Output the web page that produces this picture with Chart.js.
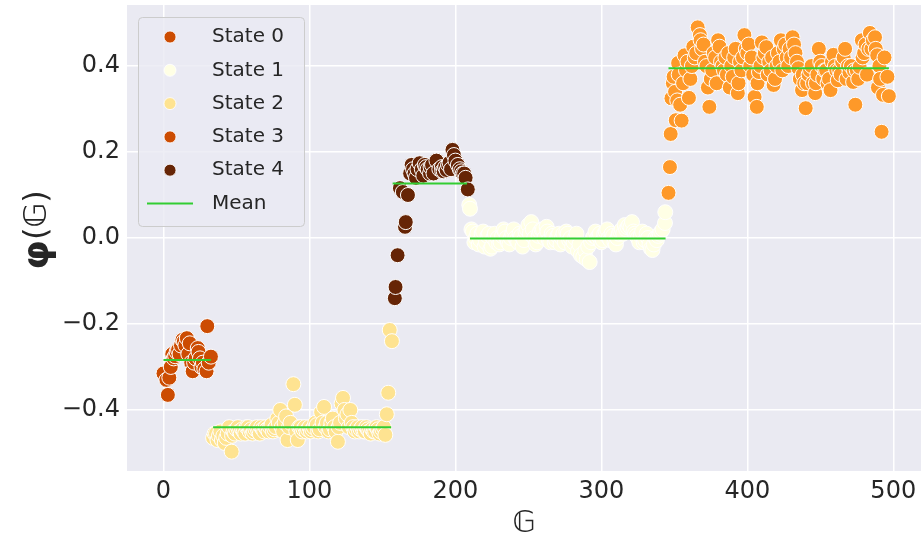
<!DOCTYPE html>
<html>
<head>
<meta charset="utf-8">
<script src="https://cdn.jsdelivr.net/npm/chart.js@4/dist/chart.umd.min.js"></script>
<style>
  html, body { margin: 0; padding: 0; background: #ffffff; }
  #wrap { width: 924px; height: 542px; }
</style>
</head>
<body>
<div id="wrap"><canvas id="myChart" width="924" height="542"></canvas></div>
<script>
// point data: [G, phi]
let state0 = [[0,-0.315],[2,-0.33],[3,-0.365],[4,-0.325],[6,-0.27],[8,-0.275],[10,-0.26],[12,-0.25],[13,-0.237],[14,-0.24],[16,-0.233],[18,-0.245],[20,-0.31],[21,-0.29],[22,-0.28],[23.5,-0.256],[24,-0.265],[26,-0.3],[28,-0.305],[29.5,-0.31],[30,-0.205],[32.5,-0.276],
	[5,-0.3],[7,-0.28],[9,-0.265],[11,-0.27],[15,-0.25],[17,-0.27],[19,-0.29],[25,-0.28],[27,-0.29],[31,-0.29]];
let state2 = [[34,-0.465],[36,-0.455],[38,-0.46],[40,-0.47],[42,-0.477],[44,-0.455],[46.7,-0.497],[48,-0.45],[50,-0.445],[52,-0.45],[54,-0.445],[56,-0.455],[58,-0.44],[60,-0.445],[62,-0.45],[64,-0.44],[66,-0.455],[68,-0.445],[70,-0.44],[72,-0.45],[74,-0.435],[76,-0.445],[78,-0.42],[80,-0.4],[82,-0.45],[84,-0.415],[85,-0.47],[89,-0.34],[90,-0.388],[92,-0.47],[94,-0.44],[96,-0.445],[98,-0.45],[100,-0.44],[102,-0.445],[104,-0.43],[106,-0.45],[108,-0.405],[110,-0.393],[112,-0.43],[114,-0.445],[116,-0.42],[118,-0.45],[119.5,-0.474],[122,-0.385],[123,-0.372],[126,-0.41],[128,-0.4],[130,-0.44],[132,-0.445],[134,-0.45],[136,-0.44],[138,-0.45],[140,-0.445],[142,-0.455],[144,-0.45],[146,-0.44],[148,-0.455],[150,-0.445],[152,-0.458],[153,-0.41],[154,-0.36],[155,-0.214],[156.5,-0.24],
	[35,-0.455],[37,-0.47],[39,-0.45],[41,-0.46],[43,-0.465],[45,-0.44],[47,-0.46],[49,-0.455],[51,-0.44],[53,-0.455],[55,-0.45],[57,-0.44],[59,-0.45],[61,-0.455],[63,-0.445],[65,-0.45],[67,-0.44],[69,-0.45],[71,-0.445],[73,-0.44],[75,-0.45],[77,-0.44],[79,-0.43],[81,-0.44],[83,-0.43],[86,-0.44],[87,-0.43],[91,-0.45],[93,-0.44],[95,-0.45],[97,-0.44],[99,-0.445],[101,-0.45],[103,-0.44],[105,-0.435],[107,-0.445],[109,-0.43],[111,-0.44],[113,-0.45],[115,-0.43],[117,-0.44],[120,-0.44],[121,-0.43],[124,-0.4],[125,-0.42],[127,-0.44],[129,-0.43],[131,-0.45],[133,-0.44],[135,-0.445],[137,-0.45],[139,-0.44],[141,-0.45],[143,-0.445],[145,-0.45],[147,-0.445],[149,-0.45],[151,-0.44]];
let state4 = [[158.5,-0.14],[159,-0.114],[160.4,-0.04],[162,0.116],[164,0.107],[165.5,0.026],[166,0.037],[167.5,0.1],[170,0.17],[172,0.15],[174,0.16],[175.5,0.174],[178,0.145],[180,0.165],[182.6,0.15],[184,0.17],[187,0.18],[189,0.16],[190.7,0.165],[192,0.155],[194,0.158],[196,0.175],[198,0.205],[199,0.193],[201.7,0.17],[204,0.155],[205,0.15],[207,0.14],[208.5,0.113],
	[169,0.15],[171,0.16],[173,0.14],[177,0.16],[179,0.17],[181,0.16],[183,0.165],[185,0.15],[191,0.155],[193,0.165],[195,0.17],[197,0.16],[200,0.18],[203,0.16],[206,0.15]];
let state1 = [[209.5,0.077],[210,0.068],[211,0.02],[212,0.015],[214,0.0],[216,-0.015],[218,0.01],[220,-0.02],[222,0.005],[224,-0.025],[226,0.0],[228,-0.01],[230,-0.015],[232,0.005],[234,0.015],[236,-0.01],[238,0.0],[240,0.02],[242,-0.005],[244,0.01],[246,-0.02],[248,0.015],[250,0.03],[252,0.037],[254,0.0],[256,-0.01],[258,0.015],[260,0.02],[262.5,0.026],[264,-0.005],[266,0.01],[268,-0.01],[270,0.005],[272,-0.015],[274,0.01],[276,0.015],[278,-0.005],[280,-0.02],[282,0.0],[284,-0.03],[286,-0.04],[287.6,-0.044],[290,-0.05],[292,-0.056],[294,0.0],[296,0.015],[298,0.005],[300,-0.01],[302,0.01],[304,0.02],[306,-0.005],[308,0.005],[310,-0.015],[312,0.01],[314,0.02],[316,0.03],[318,0.025],[321,0.037],[322,0.015],[324,0.005],[326,-0.01],[328,0.015],[330,-0.005],[332,0.0],[335,-0.028],[336,-0.015],[338,-0.005],[340,0.01],[342,0.02],[343.6,0.035],[343.8,0.06],
	[213,-0.01],[215,0.01],[217,-0.005],[219,0.015],[221,-0.01],[223,0.01],[225,-0.02],[227,0.01],[229,0.0],[231,-0.01],[233,0.02],[235,0.0],[237,-0.015],[239,0.01],[241,0.0],[243,-0.01],[245,0.005],[247,-0.005],[249,0.02],[251,0.01],[253,0.02],[255,-0.015],[257,0.005],[259,0.02],[261,0.0],[263,0.015],[265,-0.01],[267,0.005],[269,-0.005],[271,0.01],[273,0.0],[275,-0.01],[277,0.01],[279,0.0],[281,-0.01],[283,0.01],[285,-0.015],[289,-0.03],[291,-0.02],[293,-0.01],[295,0.005],[297,0.0],[299,0.01],[301,-0.005],[303,0.015],[305,0.0],[307,0.01],[309,-0.01],[311,0.0],[313,0.015],[315,0.01],[317,0.02],[319,0.03],[320,0.025],[323,0.01],[325,0.0],[327,0.005],[329,-0.01],[331,0.01],[333,-0.015],[334,-0.025],[337,0.0],[339,0.005],[341,0.015]];
let state3 = [[346,0.105],[347,0.165],[347.5,0.242],[348,0.325],[349,0.36],[349.5,0.375],[351,0.274],[352,0.32],[352.6,0.407],[354,0.31],[355,0.273],[356,0.36],[357,0.425],[358,0.39],[360,0.326],[362,0.4],[363,0.445],[364,0.42],[366,0.49],[367.5,0.472],[369,0.44],[371,0.41],[373,0.35],[374,0.305],[376,0.39],[378,0.42],[379,0.36],[380,0.46],[381,0.445],[383,0.4],[385,0.42],[386,0.38],[388,0.35],[390,0.375],[392,0.44],[393.5,0.337],[395,0.41],[396,0.39],[398,0.472],[400,0.43],[402,0.4],[404,0.38],[405,0.328],[406.5,0.305],[407,0.36],[408,0.386],[410,0.455],[411,0.42],[413,0.444],[415,0.41],[416,0.39],[418,0.356],[420,0.4],[421,0.43],[423,0.46],[425,0.44],[427,0.42],[429,0.44],[431,0.467],[433,0.43],[435,0.395],[436,0.37],[437.5,0.344],[439,0.36],[440,0.302],[442,0.38],[444,0.4],[445,0.36],[446.5,0.337],[448,0.38],[449,0.44],[451,0.4],[452,0.37],[454,0.39],[455,0.36],[457,0.344],[458,0.41],[459,0.426],[461,0.39],[462,0.367],[464,0.38],[465,0.41],[467,0.44],[469,0.4],[470,0.385],[472.5,0.363],[474,0.31],[475,0.39],[477,0.398],[478.5,0.46],[480,0.43],[482,0.38],[484,0.477],[485,0.44],[487.5,0.467],[489,0.425],[489.5,0.35],[490.5,0.4],[491,0.37],[492,0.247],[493,0.333],[494,0.42],[496,0.375],[497,0.33],
	[350.5,0.34],[353,0.38],[359,0.41],[361,0.37],[365,0.43],[368,0.46],[370,0.45],[372,0.4],[375,0.37],[377,0.43],[382,0.41],[384,0.39],[387,0.43],[389,0.4],[391,0.42],[394,0.36],[397,0.42],[399,0.44],[401,0.45],[403,0.42],[409,0.4],[412,0.43],[414,0.38],[417,0.42],[419,0.37],[422,0.41],[424,0.39],[426,0.45],[428,0.4],[430,0.42],[432,0.45],[434,0.41],[438,0.38],[441,0.36],[443,0.39],[447,0.36],[450,0.41],[453,0.39],[456,0.37],[460,0.4],[463,0.39],[466,0.42],[468,0.37],[471,0.4],[473,0.39],[476,0.37],[479,0.42],[481,0.45],[483,0.44],[486,0.46],[488,0.44]];

// mean of each state: [G from, G to, phi]
let means = [[0,32.5,-0.284],[34,156,-0.44],[157,208,0.127],[210,344,-0.001],[346,497,0.395]];

let state_names = ["State 0", "State 1", "State 2", "State 3", "State 4"];
let legend_color = ["#cc4c02", "#ffffe5", "#fee391", "#cc4c02", "#662506"];
let mean_label = "Mean";
let mean_color = "#32cd32";

let x_ticks = [0, 100, 200, 300, 400, 500];
let y_ticks = [-0.4, -0.2, 0.0, 0.2, 0.4];

const txt_color = "#262626";
const font_name = "'DejaVu Sans', sans-serif";

function pts(arr) { return arr.slice().sort((a, b) => a[0] - b[0]).map(p => ({x: p[0], y: p[1]})); }
function minus(v) { return v < 0 ? "\u2212" + Math.abs(v).toFixed(1) : v.toFixed(1); }

function scatterSet(label, arr, color) {
	return {
		type: 'scatter', label: label, data: pts(arr), order: 2,
		backgroundColor: color, borderColor: '#ffffff', borderWidth: 1,
		pointRadius: 7.5, pointHoverRadius: 7.5
	};
}

let datasets = [
	scatterSet(state_names[0], state0, "#cc4c02"),
	scatterSet(state_names[2], state2, "#fee391"),
	scatterSet(state_names[4], state4, "#662506"),
	scatterSet(state_names[1], state1, "#ffffe5"),
	scatterSet(state_names[3], state3, "#fe9929")
];
for (let i in means) {
	datasets.push({
		type: 'line', label: mean_label, order: 1,
		data: [{x: means[i][0], y: means[i][2]}, {x: means[i][1], y: means[i][2]}],
		borderColor: mean_color, borderWidth: 2, pointRadius: 0, fill: false
	});
}

const bgPlugin = {
	id: 'bg',
	beforeDraw(chart) {
		const c = chart.ctx, a = chart.chartArea;
		c.save();
		c.fillStyle = '#ffffff';
		c.fillRect(0, 0, chart.width, chart.height);
		c.fillStyle = '#eaeaf2';
		c.fillRect(a.left, a.top, a.right - a.left, a.bottom - a.top);
		c.restore();
	}
};

const legendPlugin = {
	id: 'boxLegend',
	afterDatasetsDraw(chart) {
		const c = chart.ctx;
		let bx = 138, by = 17, bw = 166, bh = 209;
		c.save();
		c.fillStyle = 'rgba(234,234,242,0.8)';
		c.strokeStyle = '#cccccc';
		c.lineWidth = 1;
		c.beginPath();
		c.roundRect(bx + 0.5, by + 0.5, bw, bh, 4);
		c.fill();
		c.stroke();
		c.font = "20px " + font_name;
		c.textBaseline = 'middle';
		for (let i = 0; i < state_names.length; i++) {
			let yy = 37 + i * 33.3;
			c.beginPath();
			c.arc(170, yy, 6, 0, Math.PI * 2);
			c.fillStyle = legend_color[i];
			c.fill();
			c.strokeStyle = '#ffffff';
			c.lineWidth = 0.8;
			c.stroke();
			c.fillStyle = txt_color;
			c.fillText(state_names[i], 212, yy);
		}
		let ym = 37 + 5 * 33.3;
		c.strokeStyle = mean_color;
		c.lineWidth = 2;
		c.beginPath();
		c.moveTo(147, ym);
		c.lineTo(193, ym);
		c.stroke();
		c.fillStyle = txt_color;
		c.fillText(mean_label, 212, ym);
		c.restore();
	}
};

// y axis title: bold phi followed by (G) in normal weight
const yTitlePlugin = {
	id: 'yTitle',
	afterDraw(chart) {
		const c = chart.ctx, a = chart.chartArea;
		const f1 = "bold 38px " + font_name, f2 = "32px " + font_name;
		c.save();
		c.translate(38, (a.top + a.bottom) / 2 - 8);
		c.rotate(-Math.PI / 2);
		c.fillStyle = txt_color;
		c.textBaseline = 'middle';
		c.font = f1;
		let w1 = c.measureText('\u03C6').width;
		c.font = f2;
		let w2 = c.measureText('(\u{1D53E})').width;
		let s = -(w1 + w2) / 2;
		c.font = f1;
		c.fillText('\u03C6', s, 0);
		c.font = f2;
		c.fillText('(\u{1D53E})', s + w1, 0);
		c.restore();
	}
};

const ctx = document.getElementById('myChart').getContext('2d');
let myChart = new Chart(ctx, {
	data: { datasets: datasets },
	options: {
		responsive: false,
		animation: false,
		devicePixelRatio: 1,
		layout: { autoPadding: false, padding: { left: 0, right: 3, top: 5, bottom: 0 } },
		plugins: { legend: { display: false }, tooltip: { enabled: false } },
		scales: {
			x: {
				type: 'linear', min: -25, max: 519,
				afterBuildTicks: function(axis) { axis.ticks = x_ticks.map(v => ({value: v})); },
				afterFit: function(axis) { axis.height = 71; axis.paddingLeft = 0; axis.paddingRight = 0; },
				grid: { color: '#ffffff', lineWidth: 1.5, drawTicks: false },
				border: { display: false },
				ticks: { color: txt_color, font: { size: 24, family: font_name }, padding: 6 },
				title: { display: true, text: '\u{1D53E}', color: txt_color, font: { size: 30, family: font_name }, padding: { top: 4, bottom: 0 } }
			},
			y: {
				type: 'linear', min: -0.542, max: 0.542,
				afterBuildTicks: function(axis) { axis.ticks = y_ticks.map(v => ({value: v})); },
				afterFit: function(axis) { axis.width = 127; axis.paddingTop = 0; axis.paddingBottom = 0; },
				grid: { color: '#ffffff', lineWidth: 1.5, drawTicks: false },
				border: { display: false },
				ticks: { color: txt_color, font: { size: 24, family: font_name }, padding: 7,
					callback: function(value) { return minus(value); } },
				title: { display: false }
			}
		}
	},
	plugins: [bgPlugin, legendPlugin, yTitlePlugin]
});
</script>
</body>
</html>
